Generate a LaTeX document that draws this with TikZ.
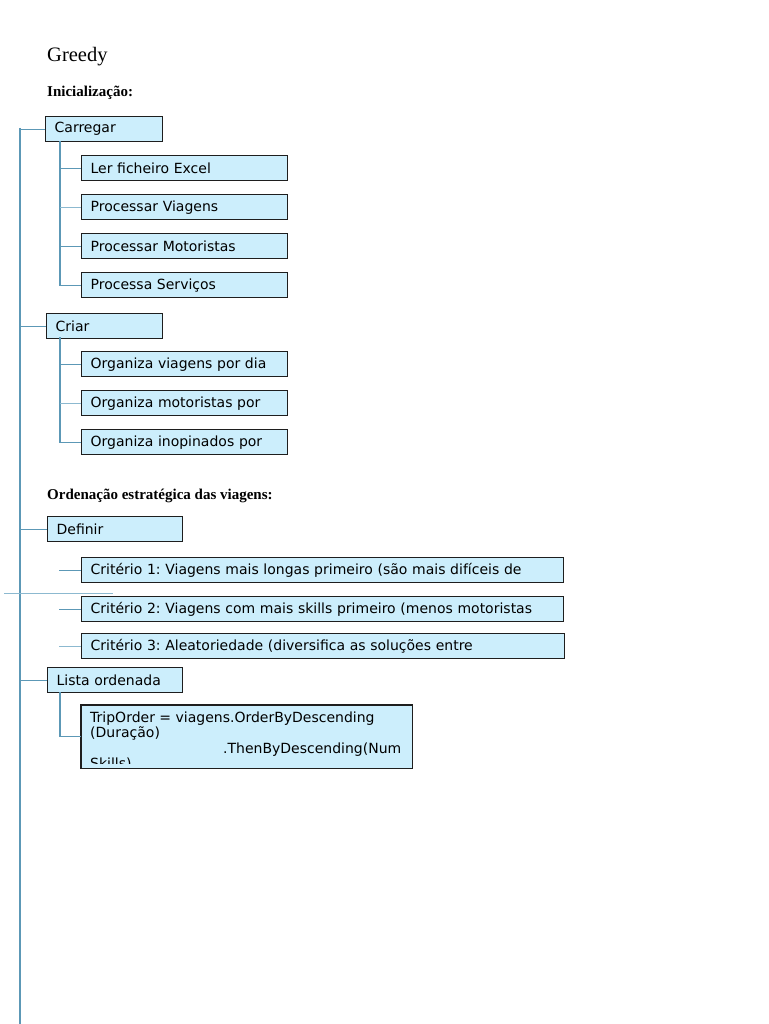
\documentclass[tikz,border=0pt]{standalone}
\usepackage{fontspec}
\setmainfont{Liberation Serif}
\newfontfamily\boxfont{DejaVu Sans}
\definecolor{boxfill}{RGB}{204,238,252}
\definecolor{boxline}{RGB}{30,30,30}
\definecolor{conncol}{RGB}{92,152,182}
\definecolor{connlight}{RGB}{140,185,208}
\frenchspacing
\tikzset{
  box/.style={draw=boxline, fill=boxfill, line width=1.3pt, anchor=north west,
    inner xsep=9pt, inner ysep=0pt, align=left, font=\boxfont\fontsize{14}{15.5}\selectfont},
  conn/.style={draw=conncol, line width=1.1pt},
  connl/.style={draw=connlight, line width=1pt},
  heading/.style={anchor=west, inner sep=0pt, font=\bfseries\fontsize{15}{17}\selectfont}
}
\begin{document}
\begin{tikzpicture}[x=1pt,y=-1pt]
\useasboundingbox (0,0) rectangle (768,1024);
% titles
\node[anchor=west, inner sep=0pt, font=\fontsize{20.5}{22}\selectfont] (title) at (47,57) {Greedy};
\node[heading] (h1) at (47,92.5) {Inicialização:};
\node[heading] (h2) at (47,495.5) {Ordenação estratégica das viagens:};

% trunk
\coordinate (trunktop) at (20,128);
\coordinate (trunkbot) at (20,1024);
\draw[conn] (trunktop) -- (trunkbot);

% Carregar group
\node[box, text width=99pt, minimum height=25pt] (carregar) at (45,116) {Carregar};
\node[box, text width=188pt, minimum height=25pt] (ler) at (81,155) {Ler ficheiro Excel};
\node[box, text width=188pt, minimum height=25pt] (pviag) at (81,194) {Processar Viagens};
\node[box, text width=188pt, minimum height=25pt] (pmot) at (81,233) {Processar Motoristas};
\node[box, text width=188pt, minimum height=25pt] (pserv) at (81,272) {Processa Serviços};
\coordinate (cv) at (60,141);
\draw[conn] (carregar.west) -- (carregar.west -| trunktop);
\draw[conn] (cv) |- (pserv.west);
\draw[conn] (ler.west) -- (ler.west -| cv);
\draw[connl] (pviag.west) -- (pviag.west -| cv);
\draw[conn] (pmot.west) -- (pmot.west -| cv);

% Criar group
\node[box, text width=98pt, minimum height=25pt] (criar) at (46,313) {Criar};
\node[box, text width=188pt, minimum height=25pt] (odia) at (81,351) {Organiza viagens por dia};
\node[box, text width=188pt, minimum height=25pt] (omot) at (81,390) {Organiza motoristas por};
\node[box, text width=188pt, minimum height=25pt] (oinop) at (81,429) {Organiza inopinados por};
\coordinate (crv) at (60,337);
\draw[conn] (criar.west) -- (criar.west -| trunktop);
\draw[conn] (crv) |- (oinop.west);
\draw[conn] (odia.west) -- (odia.west -| crv);
\draw[connl] (omot.west) -- (omot.west -| crv);

% Definir group
\node[box, text width=117pt, minimum height=25pt] (definir) at (47,516) {Definir};
\node[box, text width=464pt, minimum height=25pt] (crit1) at (81,557) {Critério 1: Viagens mais longas primeiro (são mais difíceis de};
\node[box, text width=464pt, minimum height=25pt] (crit2) at (81,596) {Critério 2: Viagens com mais skills primeiro (menos motoristas};
\node[box, text width=465pt, minimum height=25pt] (crit3) at (81,633) {Critério 3: Aleatoriedade (diversifica as soluções entre};
\coordinate (dv) at (59,560);
\draw[conn] (definir.west) -- (definir.west -| trunktop);
\draw[conn] (crit1.west) -- (crit1.west -| dv);
\draw[conn] (crit2.west) -- (crit2.west -| dv);
\draw[connl] (crit3.west) -- (crit3.west -| dv);
\coordinate (strayL) at (4,593);
\coordinate (strayR) at (113,593);
\draw[connl] (strayL) -- (strayR);

% Lista ordenada group
\node[box, text width=117pt, minimum height=25pt] (lista) at (47,667) {Lista ordenada};
\node[fill=boxfill, anchor=north west, minimum width=331pt, minimum height=63pt, inner sep=0pt] (trip) at (81,705) {};
\begin{scope}
\clip ([yshift=-1pt]trip.north west) rectangle ([yshift=5pt]trip.south east);
\node[anchor=north west, inner sep=0pt, align=left, font=\boxfont\fontsize{14}{15.4}\selectfont] (triptext) at (90,711.5)
  {TripOrder = viagens.OrderByDescending\\(Duração)\\\hspace*{133pt}.ThenByDescending(Num\\Skills)};
\end{scope}
\draw[boxline, line width=1.3pt] (trip.north west) rectangle (trip.south east);
\coordinate (lv) at (60,692);
\draw[conn] (lista.west) -- (lista.west -| trunktop);
\draw[conn] (lv) |- (trip.west);
\end{tikzpicture}
\end{document}
